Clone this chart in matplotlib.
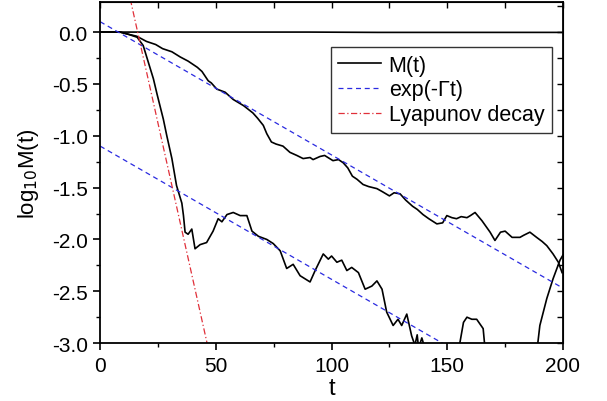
import numpy as np
import matplotlib
matplotlib.use("Agg")
import matplotlib.pyplot as plt

plt.rcParams['font.family'] = ['Liberation Sans', 'DejaVu Sans']

# regular orbit: stays at log10 M = 0
t_flat = [0, 50, 90, 120, 150, 180, 200]
m_flat = [0.0, 0.0, 0.0, -0.003, -0.003, -0.003, -0.003]

# slowly decaying fidelity
t_slow = [0, 8.6, 12, 15.8, 20, 24, 27, 31, 34.6, 38, 42, 44, 46.7, 48, 50.4, 54,
          57.5, 62, 66, 68, 70.5, 72, 74, 76, 79, 82, 85, 87.7, 90.7, 92, 95, 97,
          100.6, 103, 105, 107, 109, 111, 113.6, 116, 119.6, 122, 125, 127, 129.6,
          132, 135, 137, 139.5, 142, 145.5, 148, 149.8, 152, 154, 156, 158.5, 160,
          162, 165, 168.5, 170.6, 173, 175, 178, 181.4, 183, 185.7, 188.6, 191,
          193, 195.7, 198, 199.6]
m_slow = [0.0, 0.0, -0.02, -0.04, -0.09, -0.12, -0.16, -0.19, -0.24, -0.28, -0.34,
          -0.38, -0.47, -0.49, -0.55, -0.58, -0.65, -0.71, -0.78, -0.83, -0.9, -0.98,
          -1.06, -1.08, -1.10, -1.16, -1.19, -1.22, -1.21, -1.23, -1.20, -1.19,
          -1.24, -1.23, -1.26, -1.31, -1.39, -1.42, -1.47, -1.49, -1.51, -1.54,
          -1.58, -1.55, -1.56, -1.62, -1.68, -1.71, -1.76, -1.80, -1.85, -1.84,
          -1.77, -1.79, -1.80, -1.78, -1.79, -1.77, -1.74, -1.82, -1.93, -2.01,
          -1.93, -1.92, -1.98, -1.98, -1.96, -1.93, -1.98, -2.02, -2.06, -2.14,
          -2.22, -2.32]

# fast (Lyapunov regime) decaying fidelity
t_fast = [0, 8.6, 12, 16, 18.6, 20.8, 23, 24.6, 27.3, 28.8, 31, 33, 35.3, 36,
          36.7, 38, 39.6, 41, 43.2, 46, 48.8, 51, 52.6, 54.8, 57.5, 60.5, 63.4,
          65.6, 68.4, 72, 74.8, 77.8, 80.6, 83.4, 86.4, 90.7, 92.9, 96.4, 98.6,
          100, 102.3, 104.4, 106.6, 108.7, 111.6, 114.5, 117.4, 119.6, 121.8,
          123.8, 126.6, 128.7, 130.3, 132.5, 134.6, 136, 137, 137.6, 139, 141,
          142.5, 150, 155.5, 157, 158.5, 160.6, 162.7, 165.5, 166.5, 175, 188.6,
          190, 193, 195.7, 198.7, 200]
m_fast = [0.0, 0.0, -0.02, -0.05, -0.13, -0.29, -0.45, -0.60, -0.84, -1.00, -1.22,
          -1.48, -1.65, -1.77, -1.93, -1.95, -1.90, -2.09, -2.05, -2.03, -1.92,
          -1.80, -1.83, -1.76, -1.74, -1.77, -1.77, -1.92, -1.97, -2.00, -2.04,
          -2.11, -2.28, -2.24, -2.35, -2.41, -2.30, -2.14, -2.19, -2.16, -2.22,
          -2.20, -2.30, -2.27, -2.32, -2.48, -2.45, -2.40, -2.48, -2.70, -2.83,
          -2.77, -2.83, -2.72, -2.93, -3.02, -2.92, -3.05, -2.95, -3.10, -3.3,
          -3.4, -2.99, -2.80, -2.75, -2.77, -2.77, -2.86, -3.1, -3.5, -3.1,
          -2.83, -2.57, -2.38, -2.20, -2.15]

gamma_slope = -0.01285
gamma_offsets = [0.1, -1.1]
lyap_slope = -0.1
lyap_offset = 1.62

fig = plt.figure(figsize=(6.07, 4.02), dpi=100)
ax = fig.add_axes([0.165, 0.144, 0.7625, 0.8485])

ax.plot(t_flat, m_flat, color='black', lw=1.2)
ax.plot(t_slow, m_slow, color='black', lw=1.2, label='M(t)')
ax.plot(t_fast, m_fast, color='black', lw=1.2)

tt = np.array([0, 200])
for k, off in enumerate(gamma_offsets):
    ax.plot(tt, off + gamma_slope * tt, color='#2a2ae0', ls=(0, (4, 3)), lw=0.9,
            label='exp(-Γt)' if k == 0 else None)
ax.plot(tt, lyap_offset + lyap_slope * tt, color='#e0303a', ls=(0, (5, 2, 1, 2)),
        lw=0.9, label='Lyapunov decay')

ax.set_xlim(0, 200)
ax.set_ylim(-3.0, 0.29)
ax.set_xticks([0, 50, 100, 150, 200])
ax.set_xticks(np.arange(25, 200, 50), minor=True)
ax.set_yticks([-3.0, -2.5, -2.0, -1.5, -1.0, -0.5, 0.0])
ax.set_yticks(np.arange(-2.75, 0.2, 0.5), minor=True)
ax.set_yticklabels(['-3.0', '-2.5', '-2.0', '-1.5', '-1.0', '-0.5', '0.0'])
ax.tick_params(which='major', direction='out', length=5, width=1.2, labelsize=15,
               pad=4)
ax.tick_params(which='minor', direction='out', length=3, width=1.0)

for sp in ax.spines.values():
    sp.set_linewidth(1.3)

top = ax.secondary_xaxis('top')
top.set_xticks(np.arange(0, 201, 25))
top.tick_params(direction='in', length=4, width=1.0, labeltop=False)
right = ax.secondary_yaxis('right')
right.set_yticks(np.arange(-3.0, 0.3, 0.25))
right.tick_params(direction='in', length=4, width=1.0, labelright=False)

ax.set_xlabel('t', fontsize=17, labelpad=2)
ax.set_ylabel('log$_{10}$M(t)', fontsize=16, labelpad=8)

leg = ax.legend(loc='upper right', bbox_to_anchor=(0.976, 0.868), fontsize=15.5,
                frameon=True, fancybox=False, edgecolor='black', handlelength=2.0,
                handletextpad=0.35, borderpad=0.35, labelspacing=0.18, borderaxespad=0)
leg.get_frame().set_linewidth(1.0)

fig.savefig('out.png', dpi=100)
